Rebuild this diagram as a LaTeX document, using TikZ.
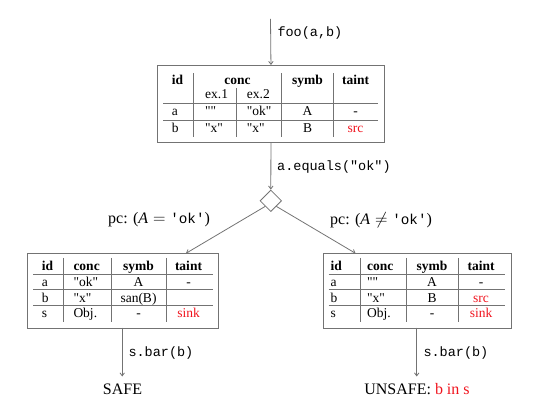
\documentclass[tikz,border=0pt]{standalone}
\usepackage{fontspec}
\setmainfont{Liberation Serif}[Ligatures=TeXOff]
\setmonofont{Liberation Mono}
\usetikzlibrary{shapes.geometric,arrows.meta}
\definecolor{ln}{gray}{0.45}
\definecolor{tred}{RGB}{240,20,30}
\newcommand{\sq}{\char34\relax}
\begin{document}
\begin{tikzpicture}[x=1pt,y=-1pt,
  box/.style={draw=ln,line width=0.9pt,inner sep=0pt,anchor=north west},
  rule/.style={draw=ln,line width=0.8pt},
  conn/.style={draw=ln,line width=0.8pt,-{Straight Barb[length=3pt,width=4.5pt]}},
  cell/.style={inner sep=0pt,anchor=base,font=\fontsize{13.5}{16}\selectfont},
  cellw/.style={cell,anchor=base west},
  hd/.style={cell,font=\fontsize{13.5}{16}\selectfont\bfseries},
  hdw/.style={hd,anchor=base west},
  code/.style={inner sep=0pt,anchor=west,font=\fontsize{13.5}{16}\selectfont\ttfamily},
  lbl/.style={inner sep=0pt,font=\fontsize{16}{19}\selectfont},
  tnt/.style={text=tred}
]
\useasboundingbox (0,0) rectangle (543,419);

% ---------- top table ----------
\node[box,minimum width=227.6pt,minimum height=76.7pt] (T) at (156.7,65) {};
\draw[rule] (163.3,103.3) -- (378.3,103.3);
\draw[rule] (163.3,120.7) -- (378.3,120.7);
\draw[rule] (193.3,73.3) -- (193.3,137.3);
\draw[rule] (236,88.3) -- (236,137.3);
\draw[rule] (281.7,73.3) -- (281.7,137.3);
\draw[rule] (333.3,73.3) -- (333.3,137.3);
\node[hdw] (Tid) at (171.7,85) {id};
\node[hd] (Tconc) at (237.5,85) {conc};
\node[hd] (Tsymb) at (307.5,85) {symb};
\node[hd] (Ttaint) at (355.5,85) {taint};
\node[cellw] (Tex1) at (205,98.5) {ex.1};
\node[cellw] (Tex2) at (246.7,98.5) {ex.2};
\node[cellw] (Ta) at (171.7,116) {a};
\node[cellw] (Ta1) at (205,116) {\sq\sq};
\node[cellw] (Ta2) at (246.7,116) {\sq ok\sq};
\node[cell] (Ta3) at (307.5,116) {A};
\node[cell] (Ta4) at (355.5,116) {-};
\node[cellw] (Tb) at (171.7,132.5) {b};
\node[cellw] (Tb1) at (205,132.5) {\sq x\sq};
\node[cellw] (Tb2) at (246.7,132.5) {\sq x\sq};
\node[cell] (Tb3) at (307.5,132.5) {B};
\node[cell,tnt] (Tb4) at (355.5,132.5) {src};

% ---------- diamond ----------
\node[diamond,draw=ln,line width=0.8pt,fill=white,minimum width=21.6pt,minimum height=21.6pt,inner sep=0pt] (D) at (270.8,200.8) {};

% ---------- left table ----------
\node[box,minimum width=191pt,minimum height=74.2pt] (L) at (27.3,253.3) {};
\draw[rule] (33,274) -- (213,274);
\draw[rule] (33,289.5) -- (213,289.5);
\draw[rule] (33,305.5) -- (213,305.5);
\draw[rule] (63.5,258) -- (63.5,322);
\draw[rule] (111,258) -- (111,322);
\draw[rule] (166,258) -- (166,322);
\node[hdw] (Lid) at (41.7,271) {id};
\node[hdw] (Lconc) at (73.3,271) {conc};
\node[hd] (Lsymb) at (138.5,271) {symb};
\node[hd] (Ltaint) at (188.5,271) {taint};
\node[cellw] (La) at (41.7,286.5) {a};
\node[cellw] (La1) at (73.3,286.5) {\sq ok\sq};
\node[cell] (La2) at (138.5,286.5) {A};
\node[cell] (La3) at (188.5,286.5) {-};
\node[cellw] (Lb) at (41.7,302) {b};
\node[cellw] (Lb1) at (73.3,302) {\sq x\sq};
\node[cell] (Lb2) at (138.5,302) {san(B)};
\node[cellw] (Ls) at (41.7,318) {s};
\node[cellw] (Ls1) at (73.3,318) {Obj.};
\node[cell] (Ls2) at (138.5,318) {-};
\node[cell,tnt] (Ls3) at (188.5,318) {sink};

% ---------- right table ----------
\node[box,minimum width=187.2pt,minimum height=74.2pt] (R) at (323.3,253.3) {};
\draw[rule] (328.5,274) -- (505,274);
\draw[rule] (328.5,289.5) -- (505,289.5);
\draw[rule] (328.5,305.5) -- (505,305.5);
\draw[rule] (360.3,258) -- (360.3,322);
\draw[rule] (406.5,258) -- (406.5,322);
\draw[rule] (458,258) -- (458,322);
\node[hdw] (Rid) at (330.5,271) {id};
\node[hdw] (Rconc) at (367,271) {conc};
\node[hd] (Rsymb) at (432,271) {symb};
\node[hd] (Rtaint) at (481,271) {taint};
\node[cellw] (Ra) at (330.5,286.5) {a};
\node[cellw] (Ra1) at (367,286.5) {\sq\sq};
\node[cell] (Ra2) at (432,286.5) {A};
\node[cell] (Ra3) at (481,286.5) {-};
\node[cellw] (Rb) at (330.5,302) {b};
\node[cellw] (Rb1) at (367,302) {\sq x\sq};
\node[cell] (Rb2) at (432,302) {B};
\node[cell,tnt] (Rb3) at (481,302) {src};
\node[cellw] (Rs) at (330.5,318) {s};
\node[cellw] (Rs1) at (367,318) {Obj.};
\node[cell] (Rs2) at (432,318) {-};
\node[cell,tnt] (Rs3) at (481,318) {sink};

% ---------- results ----------
\node[lbl,anchor=base] (safe) at (122.5,394.5) {SAFE};
\node[lbl,anchor=base] (unsafe) at (417,394.5) {UNSAFE: \textcolor{tred}{b in s}};

% ---------- connectors ----------
\coordinate (in0) at (270.5,19);
\coordinate (Lin) at (186,253.3);
\coordinate (Rin) at (355.5,253.3);
\coordinate (Lout) at (122.2,327.5);
\coordinate (Lend) at (122.2,376.5);
\coordinate (Rout) at (416.7,327.5);
\coordinate (Rend) at (416.7,376.5);
\draw[conn] (in0) -- (T.north);
\draw[conn] (T.south) -- (D.north);
\draw[conn] (D.south west) -- (Lin);
\draw[conn] (D.south east) -- (Rin);
\draw[conn] (Lout) -- (Lend);
\draw[conn] (Rout) -- (Rend);

% ---------- labels ----------
\node[code] (Lfoo) at (277.3,33.3) {foo(a,b)};
\node[code] (Leq) at (277,167) {a.equals("ok")};
\node[lbl,anchor=west] (pcL) at (108,220) {pc: (\textit{A}${}={}${\fontsize{14.3}{16}\selectfont\ttfamily 'ok'})};
\node[lbl,anchor=west] (pcR) at (330,220) {pc: (\textit{A}${}\neq{}${\fontsize{14.3}{16}\selectfont\ttfamily 'ok'})};
\node[code] (LbarL) at (128.3,353.3) {s.bar(b)};
\node[code] (LbarR) at (423.3,353.3) {s.bar(b)};
\end{tikzpicture}
\end{document}
